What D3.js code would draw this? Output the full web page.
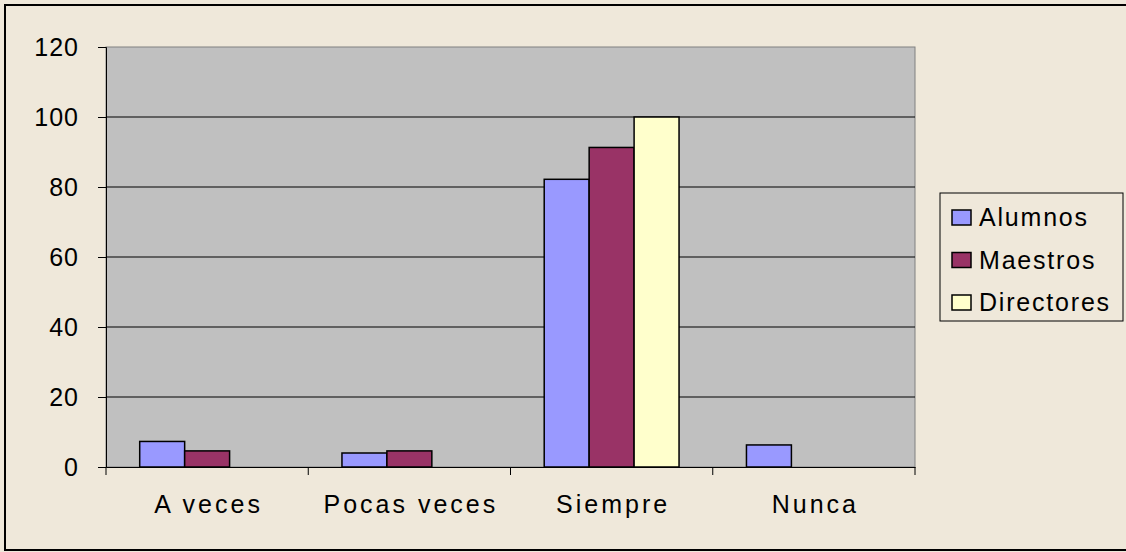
<!DOCTYPE html>
<html><head><meta charset="utf-8">
<script src="https://cdn.jsdelivr.net/npm/d3@7"></script>
<style>html,body{margin:0;padding:0;background:#EFE8DA;}svg{display:block;}text{font-family:"Liberation Sans",Arial,sans-serif;fill:#000;}</style>
</head><body><svg id="c" width="1126" height="552"></svg>
<script>
const categories = ["A veces","Pocas veces","Siempre","Nunca"];
const series = ["Alumnos","Maestros","Directores"];
const alumnos = [7.3, 4.0, 82.2, 6.3];
const maestros = [4.6, 4.6, 91.3, 0];
const directores = [0, 0, 100, 0];
const yTicks = [0,20,40,60,80,100,120];
const colors = ["#9999FF","#993366","#FFFFCC"];
const values = [alumnos, maestros, directores];

const svg = d3.select("#c");
svg.append("rect").attr("x",5).attr("y",5).attr("width",1130).attr("height",545)
  .attr("fill","#EFE8DA").attr("stroke","#000").attr("stroke-width",2);

const L=106, R=915, T=47, B=467;
const x = d3.scaleBand().domain(categories).range([L,R]).paddingInner(0).paddingOuter(0);
const bw = x.bandwidth()/4.5;
const xs = d3.scaleBand().domain(series).range([0.75*bw, 3.75*bw]);
const y = d3.scaleLinear().domain([0,120]).range([B,T]);

svg.append("rect").attr("x",L).attr("y",T).attr("width",R-L).attr("height",B-T)
  .attr("fill","#C0C0C0").attr("stroke","#808080").attr("stroke-width",1);

svg.append("g").selectAll("line").data(yTicks.filter(d=>d>0 && d<120)).join("line")
  .attr("x1",L).attr("x2",R).attr("y1",d=>y(d)).attr("y2",d=>y(d))
  .attr("stroke","#000").attr("stroke-width",1);

const g = svg.append("g");
series.forEach((s,i)=>{
  g.selectAll(null).data(categories.map((c,j)=>({c,v:values[i][j]})).filter(d=>d.v>0)).join("rect")
    .attr("x",d=>x(d.c)+xs(s)).attr("y",d=>y(d.v))
    .attr("width",xs.bandwidth()).attr("height",d=>B-y(d.v))
    .attr("fill",colors[i]).attr("stroke","#000").attr("stroke-width",1.5);
});

const ya = svg.append("g").attr("transform",`translate(${L},0)`)
  .call(d3.axisLeft(y).tickValues(yTicks).tickSize(8).tickPadding(19).tickFormat(d3.format("d")));
ya.select(".domain").attr("stroke","#000");
ya.selectAll(".tick line").attr("stroke","#000");
ya.selectAll("text").attr("font-size",25).attr("font-family","Liberation Sans, Arial, sans-serif").attr("letter-spacing",1).attr("fill","#000");

const xa = svg.append("g").attr("transform",`translate(0,${B})`)
  .call(d3.axisBottom(x).tickValues([]).tickSize(0));
xa.select(".domain").attr("stroke","#000");
svg.append("g").selectAll("line").data([...categories.map(c=>x(c)), R]).join("line")
  .attr("x1",d=>d).attr("x2",d=>d).attr("y1",B).attr("y2",B+8).attr("stroke","#000");
svg.append("g").selectAll("text").data(categories).join("text")
  .attr("x",d=>x(d)+x.bandwidth()/2+1.5).attr("y",513).attr("text-anchor","middle")
  .attr("font-size",25).attr("letter-spacing",3).text(d=>d);

// legend
const lg = svg.append("g");
lg.append("rect").attr("x",940).attr("y",193).attr("width",183).attr("height",128)
  .attr("fill","#EFE8DA").attr("stroke","#000").attr("stroke-width",1);
series.forEach((s,i)=>{
  const cy = 217 + i*42.5;
  lg.append("rect").attr("x",952).attr("y",cy-7).attr("width",19).attr("height",15)
    .attr("fill",colors[i]).attr("stroke","#000").attr("stroke-width",1.5);
  lg.append("text").attr("x",979).attr("y",cy+9).attr("font-size",25).attr("letter-spacing",1.8).text(s);
});
</script></body></html>
